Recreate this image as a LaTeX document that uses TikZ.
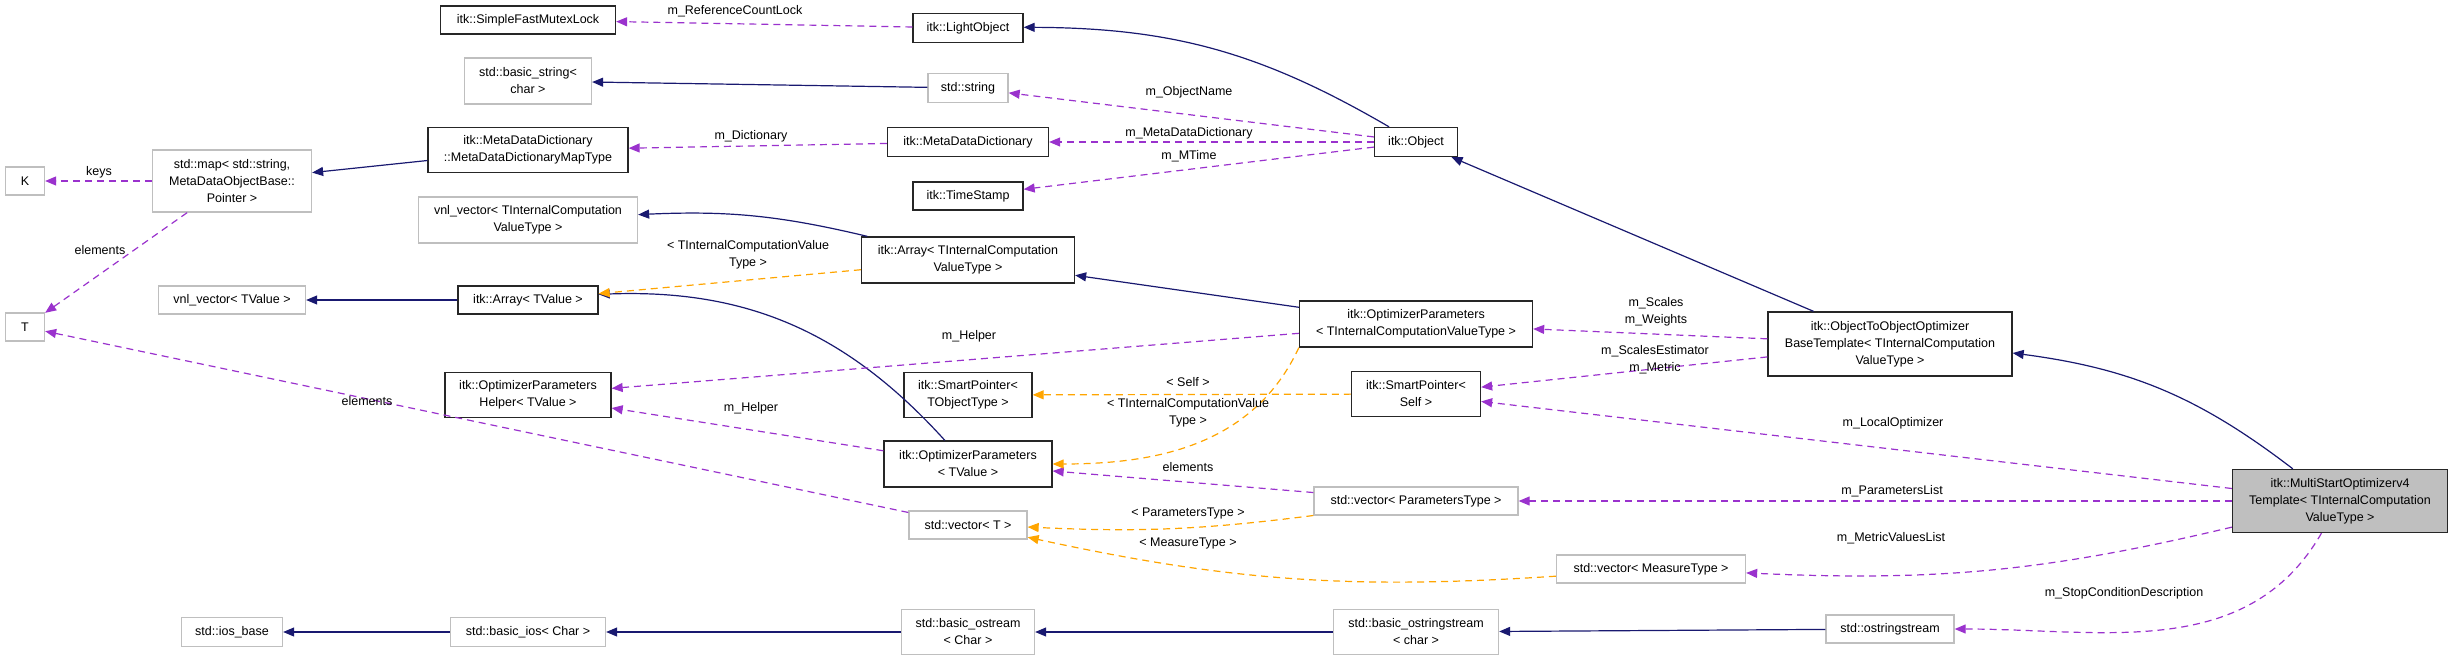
\documentclass[tikz,border=0pt]{standalone}
\usepackage{fontspec}
\setmainfont{Liberation Sans}
\usetikzlibrary{arrows.meta}
\definecolor{inhcol}{HTML}{191970}
\definecolor{usecol}{HTML}{9A32CD}
\definecolor{tplcol}{HTML}{FFA500}
\definecolor{extcol}{HTML}{BFBFBF}

\begin{document}
\begin{tikzpicture}[x=1pt, y=-1pt,
    every node/.style={font=\fontsize{12.5}{17}\selectfont, inner sep=0pt, align=center},
    cls/.style={draw=black!85, line width=1.3pt},
    ext/.style={draw=extcol, line width=1.3pt},
    lbl/.style={font=\fontsize{12.5}{17}\selectfont},
    inh/.style={draw=inhcol, line width=1.2pt, -{Triangle[length=11pt, width=9pt]}},
    use/.style={draw=usecol, line width=1.2pt, dash pattern=on 7pt off 5pt, -{Triangle[length=11pt, width=9pt]}},
    tpl/.style={draw=tplcol, line width=1.2pt, dash pattern=on 7pt off 5pt, -{Triangle[length=11pt, width=9pt]}}]

    \useasboundingbox (0,0) rectangle (2448,660);

    % classes
    \node[cls, minimum width=175, minimum height=28] (mutex) at (528,20) {itk::SimpleFastMutexLock};
    \node[cls, minimum width=110, minimum height=29] (lobj) at (968,28) {itk::LightObject};
    \node[ext, minimum width=127, minimum height=46] (bstr) at (528,81) {std::basic\_string\textless\\char \textgreater};
    \node[ext, minimum width=80, minimum height=29] (str) at (968,88) {std::string};
    \node[cls, minimum width=200, minimum height=45] (mapty) at (528,150) {itk::MetaDataDictionary\\::MetaDataDictionaryMapType};
    \node[cls, minimum width=161, minimum height=29] (mdd) at (968,142) {itk::MetaDataDictionary};
    \node[cls, minimum width=83, minimum height=29] (obj) at (1416,142) {itk::Object};
    \node[cls, minimum width=110, minimum height=28] (tstamp) at (968,196) {itk::TimeStamp};
    \node[ext, minimum width=159, minimum height=62] (map) at (232,181) {std::map\textless{} std::string,\\MetaDataObjectBase::\\Pointer \textgreater};
    \node[ext, minimum width=39, minimum height=28] (K) at (25,181) {K};
    \node[ext, minimum width=39, minimum height=28] (T) at (25,327) {T};
    \node[ext, minimum width=219, minimum height=46] (vnlI) at (528,220) {vnl\_vector\textless{} TInternalComputation\\ValueType \textgreater};
    \node[cls, minimum width=213, minimum height=46] (arrI) at (968,260) {itk::Array\textless{} TInternalComputation\\ValueType \textgreater};
    \node[ext, minimum width=147, minimum height=28] (vnlV) at (232,300) {vnl\_vector\textless{} TValue \textgreater};
    \node[cls, minimum width=140, minimum height=28] (arrV) at (528,300) {itk::Array\textless{} TValue \textgreater};
    \node[cls, minimum width=233, minimum height=46] (optI) at (1416,324) {itk::OptimizerParameters\\\textless{} TInternalComputationValueType \textgreater};
    \node[cls, minimum width=166, minimum height=45] (helper) at (528,395) {itk::OptimizerParameters\\Helper\textless{} TValue \textgreater};
    \node[cls, minimum width=128, minimum height=45] (spT) at (968,395) {itk::SmartPointer\textless\\TObjectType \textgreater};
    \node[cls, minimum width=129, minimum height=45] (spS) at (1416,394) {itk::SmartPointer\textless\\Self \textgreater};
    \node[cls, minimum width=168, minimum height=46] (optV) at (968,464) {itk::OptimizerParameters\\\textless{} TValue \textgreater};
    \node[ext, minimum width=204, minimum height=28] (vecP) at (1416,501) {std::vector\textless{} ParametersType \textgreater};
    \node[ext, minimum width=118, minimum height=28] (vecT) at (968,525) {std::vector\textless{} T \textgreater};
    \node[ext, minimum width=189, minimum height=28] (vecM) at (1651,569) {std::vector\textless{} MeasureType \textgreater};
    \node[ext, minimum width=101, minimum height=29] (iosb) at (232,632) {std::ios\_base};
    \node[ext, minimum width=155, minimum height=29] (bios) at (528,632) {std::basic\_ios\textless{} Char \textgreater};
    \node[ext, minimum width=133, minimum height=45] (bost) at (968,632) {std::basic\_ostream\\\textless{} Char \textgreater};
    \node[ext, minimum width=165, minimum height=45] (bosst) at (1416,632) {std::basic\_ostringstream\\\textless{} char \textgreater};
    \node[cls, minimum width=244, minimum height=64] (o2o) at (1890,344) {itk::ObjectToObjectOptimizer\\BaseTemplate\textless{} TInternalComputation\\ValueType \textgreater};
    \node[cls, fill=extcol, minimum width=215, minimum height=63] (mso) at (2340,501) {itk::MultiStartOptimizerv4\\Template\textless{} TInternalComputation\\ValueType \textgreater};
    \node[ext, minimum width=128, minimum height=28] (ostr) at (1890,629) {std::ostringstream};

    % inheritance
    \draw[inh] (obj) to[bend right=15] (lobj);
    \draw[inh] (str) -- (bstr);
    \draw[inh] (mapty) -- (map);
    \draw[inh] (arrI) to[bend right=8] (vnlI);
    \draw[inh] (arrV) -- (vnlV);
    \draw[inh] (optI) -- (arrI);
    \draw[inh] (optV) to[bend right=25] (arrV);
    \draw[inh] (bios) -- (iosb);
    \draw[inh] (bost) -- (bios);
    \draw[inh] (bosst) -- (bost);
    \draw[inh] (ostr) -- (bosst);
    \draw[inh] (o2o) -- (obj);
    \draw[inh] (mso) to[bend right=15] (o2o);

    % members
    \draw[use] (lobj) -- (mutex);
    \draw[use] (obj) -- (str);
    \draw[use] (obj) -- (mdd);
    \draw[use] (obj) -- (tstamp);
    \draw[use] (mdd) -- (mapty);
    \draw[use] (map) -- (K);
    \draw[use] (map) -- (T);
    \draw[use] (vecT) -- (T);
    \draw[use] (optI) -- (helper);
    \draw[use] (optV) -- (helper);
    \draw[use] (vecP) -- (optV);
    \draw[use] (o2o) -- (optI);
    \draw[use] (o2o) -- (spS);
    \draw[use] (mso) -- (spS);
    \draw[use] (mso) -- (vecP);
    \draw[use] (mso) to[bend left=8] (vecM);
    \draw[use] (mso) to[out=-120, in=0] (ostr);

    % templates
    \draw[tpl] (arrI) -- (arrV);
    \draw[tpl] (spS) -- (spT);
    \draw[tpl] (optI.south west) to[out=-115, in=0] (optV);
    \draw[tpl] (vecP) to[bend left=5] (vecT);
    \draw[tpl] (vecM) to[bend left=8] (vecT);

    % labels
    \node[lbl] (lmutex) at (735,11) {m\_ReferenceCountLock};
    \node[lbl] (lname) at (1189,92) {m\_ObjectName};
    \node[lbl] (lmdd) at (1189,133) {m\_MetaDataDictionary};
    \node[lbl] (lmtime) at (1189,156) {m\_MTime};
    \node[lbl] (ldict) at (751,136) {m\_Dictionary};
    \node[lbl] (lkeys) at (99,172) {keys};
    \node[lbl] (lelm) at (100,250) {elements};
    \node[lbl] (larr) at (748,255) {\textless{} TInternalComputationValue\\Type \textgreater};
    \node[lbl] (lhelpI) at (969,336) {m\_Helper};
    \node[lbl] (lhelpV) at (751,408) {m\_Helper};
    \node[lbl] (lelmT) at (367,401) {elements};
    \node[lbl] (lself) at (1188,382) {\textless{} Self \textgreater};
    \node[lbl] (lopt) at (1188,413) {\textless{} TInternalComputationValue\\Type \textgreater};
    \node[lbl] (lelmV) at (1188,467) {elements};
    \node[lbl] (lparty) at (1188,513) {\textless{} ParametersType \textgreater};
    \node[lbl] (lmeasty) at (1188,543) {\textless{} MeasureType \textgreater};
    \node[lbl] (lscales) at (1656,312) {m\_Scales\\m\_Weights};
    \node[lbl] (lest) at (1655,360) {m\_ScalesEstimator\\m\_Metric};
    \node[lbl] (lloc) at (1893,423) {m\_LocalOptimizer};
    \node[lbl] (lplist) at (1892,491) {m\_ParametersList};
    \node[lbl] (lmvl) at (1891,538) {m\_MetricValuesList};
    \node[lbl] (lstop) at (2124,593) {m\_StopConditionDescription};
\end{tikzpicture}
\end{document}
